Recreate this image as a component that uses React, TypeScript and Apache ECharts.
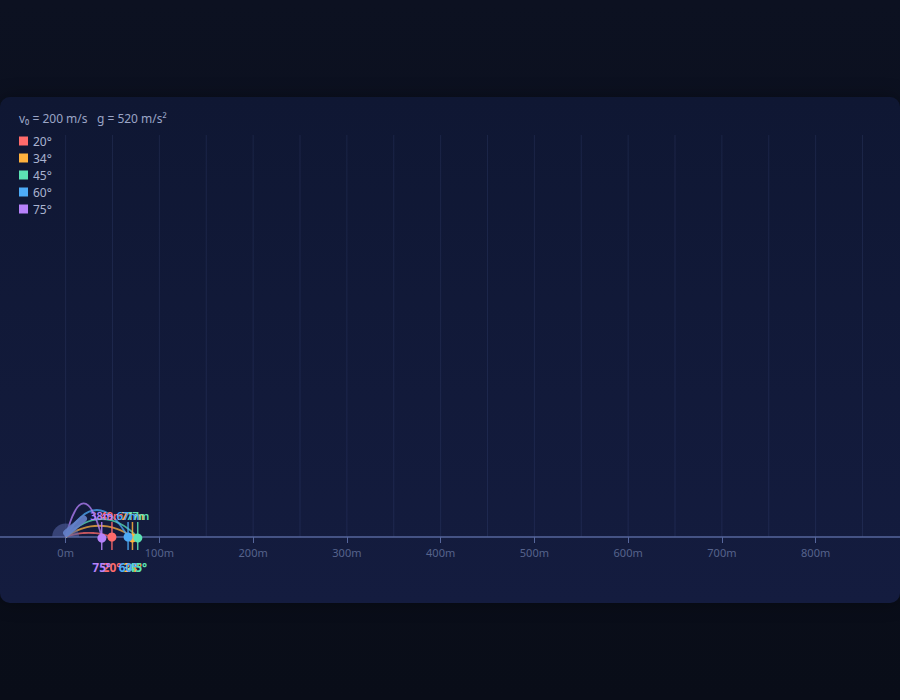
import React, { useEffect, useRef } from "react";
import * as echarts from "echarts";

// ---- data ----
const angleNames = ["20°", "34°", "45°", "60°", "75°"];
const seriesColors = ["#ff6b6b", "#ffb23e", "#5ce3b4", "#4dabf7", "#b782fb"];
const ranges = [49.4, 71.3, 76.9, 66.6, 38.5];
const rangeLabels = ["49m", "71m", "77m", "67m", "38m"];
const traj20 = [[0, 0], [6.2, 2.0], [12.4, 3.4], [18.5, 4.2], [24.7, 4.5], [30.9, 4.2], [37.1, 3.4], [43.2, 2.0], [49.4, 0]];
const traj34 = [[0, 0], [8.9, 5.3], [17.8, 9.0], [26.7, 11.3], [35.7, 12.0], [44.6, 11.3], [53.5, 9.0], [62.4, 5.3], [71.3, 0]];
const traj45 = [[0, 0], [9.6, 8.4], [19.2, 14.4], [28.8, 18.0], [38.5, 19.2], [48.1, 18.0], [57.7, 14.4], [67.3, 8.4], [76.9, 0]];
const traj60 = [[0, 0], [8.3, 12.6], [16.7, 21.6], [25.0, 27.0], [33.3, 28.8], [41.6, 27.0], [50.0, 21.6], [58.3, 12.6], [66.6, 0]];
const traj75 = [[0, 0], [4.8, 15.7], [9.6, 26.9], [14.4, 33.7], [19.2, 35.9], [24.1, 33.7], [28.9, 26.9], [33.7, 15.7], [38.5, 0]];
const trajectories = [traj20, traj34, traj45, traj60, traj75];
const xTickValues = [0, 100, 200, 300, 400, 500, 600, 700, 800];
const gridLineValues = [0, 50, 100, 150, 200, 250, 300, 350, 400, 450, 500, 550, 600, 650, 700, 750, 800, 850];
const xMin = -70;
const xMax = 890;
const yMax = 428.8;
const cannonAngleDeg = 40;
const titleText = "v₀ = 200 m/s   g = 520 m/s²";

const FONT = '"Noto Sans", "Open Sans", sans-serif';

export default function App() {
  const ref = useRef<HTMLDivElement>(null);
  useEffect(() => {
    document.body.style.margin = "0";
    if (!ref.current) return;
    const chart = echarts.init(ref.current, null, { renderer: "svg" });

    const lineSeries = angleNames.map((name, i) => ({
      name,
      type: "line",
      data: trajectories[i],
      smooth: true,
      showSymbol: false,
      silent: true,
      z: 3,
      itemStyle: { color: seriesColors[i] },
      lineStyle: { color: seriesColors[i], width: 1.8, opacity: 0.75 },
    }));

    const landingSeries = angleNames.map((name, i) => ({
      name,
      type: "custom",
      coordinateSystem: "cartesian2d",
      clip: false,
      silent: true,
      z: 5,
      itemStyle: { color: seriesColors[i] },
      data: [[ranges[i], 0]],
      renderItem: (_p: any, api: any) => {
        const p = api.coord([api.value(0), 0]);
        const c = seriesColors[i];
        return {
          type: "group",
          children: [
            { type: "line", shape: { x1: p[0], y1: p[1] - 15, x2: p[0], y2: p[1] + 13 }, style: { stroke: c, lineWidth: 1.5, opacity: 0.85 } },
            { type: "circle", shape: { cx: p[0], cy: p[1], r: 4.5 }, style: { fill: c } },
            { type: "text", x: p[0], y: p[1] - 22, style: { text: rangeLabels[i], fill: c, fontSize: 11, fontWeight: 600, fontFamily: FONT, align: "center", verticalAlign: "middle" } },
            { type: "text", x: p[0], y: p[1] + 30, style: { text: name, fill: c, fontSize: 12, fontWeight: 700, fontFamily: FONT, align: "center", verticalAlign: "middle" } },
          ],
        };
      },
    }));

    const gridSeries = {
      type: "custom",
      coordinateSystem: "cartesian2d",
      silent: true,
      z: 0,
      data: gridLineValues.map((v) => [v, 0]),
      renderItem: (_p: any, api: any) => {
        const a = api.coord([api.value(0), 0]);
        const b = api.coord([api.value(0), yMax]);
        return { type: "line", shape: { x1: a[0], y1: a[1], x2: b[0], y2: b[1] }, style: { stroke: "rgba(110,130,200,0.13)", lineWidth: 1 } };
      },
    };

    const cannonSeries = {
      type: "custom",
      coordinateSystem: "cartesian2d",
      silent: true,
      clip: false,
      z: 6,
      data: [[0, 0]],
      renderItem: (_p: any, api: any) => {
        const o = api.coord([api.value(0), api.value(1)]);
        const rad = (cannonAngleDeg * Math.PI) / 180;
        const len = 22;
        return {
          type: "group",
          children: [
            { type: "sector", shape: { cx: o[0], cy: o[1], r0: 0, r: 13.5, startAngle: Math.PI, endAngle: Math.PI * 2 }, style: { fill: "rgba(85,100,165,0.55)" } },
            { type: "line", shape: { x1: o[0] + 1, y1: o[1] - 4, x2: o[0] + 1 + len * Math.cos(rad), y2: o[1] - 4 - len * Math.sin(rad) }, style: { stroke: "rgba(100,128,200,0.92)", lineWidth: 7, lineCap: "round" } },
          ],
        };
      },
    };

    chart.setOption({
      animation: false,
      backgroundColor: "transparent",
      title: {
        text: titleText,
        left: 14,
        top: 10,
        textStyle: { color: "#9ba5c6", fontSize: 12, fontWeight: "normal", fontFamily: FONT },
      },
      legend: {
        orient: "vertical",
        left: 14,
        top: 33,
        itemWidth: 9,
        itemHeight: 9,
        itemGap: 5,
        icon: "rect",
        data: angleNames,
        textStyle: { color: "#aab3d0", fontSize: 12, fontFamily: FONT, lineHeight: 12 },
      },
      grid: { left: 0, right: 0, top: 38, bottom: 66 },
      xAxis: {
        type: "value",
        min: xMin,
        max: xMax,
        axisLine: { show: true, lineStyle: { color: "#56669c", width: 1.5 } },
        axisTick: { show: true, length: 6, customValues: xTickValues, lineStyle: { color: "#56669c" } },
        axisLabel: { customValues: xTickValues, formatter: "{value}m", color: "#56638c", fontSize: 11, fontFamily: FONT, margin: 10 },
        splitLine: { show: false },
      },
      yAxis: {
        type: "value",
        min: 0,
        max: yMax,
        show: false,
        splitLine: { show: false },
      },
      series: [gridSeries, ...lineSeries, ...landingSeries, cannonSeries],
    });
    return () => chart.dispose();
  }, []);

  return (
    <div style={{ position: "fixed", left: 0, top: 0, width: 900, height: 700, background: "linear-gradient(180deg, #0c1121 0%, #090d18 100%)", overflow: "hidden" }}>
      <div style={{ position: "absolute", left: 0, top: 97, width: 900, height: 506, borderRadius: 10, background: "linear-gradient(180deg, #0f1733 0%, #141c3f 100%)", boxShadow: "0 0 18px rgba(0,0,0,0.35)" }}>
        <div ref={ref} style={{ width: 900, height: 506 }} />
      </div>
    </div>
  );
}
